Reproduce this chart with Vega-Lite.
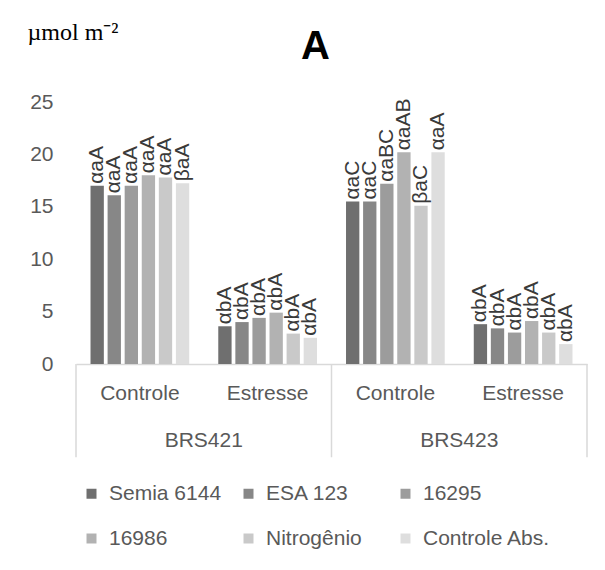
{
  "$schema": "https://vega.github.io/schema/vega-lite/v6.json",
  "autosize": {"type": "none"},
  "padding": {"left": 76, "top": 102, "right": 18, "bottom": 206},
  "width": 511,
  "height": 262,
  "background": "white",
  "config": {
    "view": {"stroke": null},
    "font": "Liberation Sans"
  },
  "title": {
    "text": "A",
    "font": "Liberation Sans",
    "fontSize": 40,
    "fontWeight": "bold",
    "color": "#000000",
    "anchor": "middle",
    "frame": "group",
    "baseline": "alphabetic",
    "dx": -16,
    "offset": -79
  },
  "data": {
    "values": [
      {"cultivar": "BRS421", "tratamento": "Controle", "grupo": "BRS421|Controle", "cepa": "Semia 6144", "valor": 17.0, "letra": "αaA"},
      {"cultivar": "BRS421", "tratamento": "Controle", "grupo": "BRS421|Controle", "cepa": "ESA 123", "valor": 16.1, "letra": "αaA"},
      {"cultivar": "BRS421", "tratamento": "Controle", "grupo": "BRS421|Controle", "cepa": "16295", "valor": 17.0, "letra": "αaA"},
      {"cultivar": "BRS421", "tratamento": "Controle", "grupo": "BRS421|Controle", "cepa": "16986", "valor": 18.0, "letra": "αaA"},
      {"cultivar": "BRS421", "tratamento": "Controle", "grupo": "BRS421|Controle", "cepa": "Nitrogênio", "valor": 17.8, "letra": "αaA"},
      {"cultivar": "BRS421", "tratamento": "Controle", "grupo": "BRS421|Controle", "cepa": "Controle Abs.", "valor": 17.25, "letra": "βaA"},
      {"cultivar": "BRS421", "tratamento": "Estresse", "grupo": "BRS421|Estresse", "cepa": "Semia 6144", "valor": 3.6, "letra": "αbA"},
      {"cultivar": "BRS421", "tratamento": "Estresse", "grupo": "BRS421|Estresse", "cepa": "ESA 123", "valor": 4.0, "letra": "αbA"},
      {"cultivar": "BRS421", "tratamento": "Estresse", "grupo": "BRS421|Estresse", "cepa": "16295", "valor": 4.4, "letra": "αbA"},
      {"cultivar": "BRS421", "tratamento": "Estresse", "grupo": "BRS421|Estresse", "cepa": "16986", "valor": 4.9, "letra": "αbA"},
      {"cultivar": "BRS421", "tratamento": "Estresse", "grupo": "BRS421|Estresse", "cepa": "Nitrogênio", "valor": 2.9, "letra": "αbA"},
      {"cultivar": "BRS421", "tratamento": "Estresse", "grupo": "BRS421|Estresse", "cepa": "Controle Abs.", "valor": 2.5, "letra": "αbA"},
      {"cultivar": "BRS423", "tratamento": "Controle", "grupo": "BRS423|Controle", "cepa": "Semia 6144", "valor": 15.5, "letra": "αaC"},
      {"cultivar": "BRS423", "tratamento": "Controle", "grupo": "BRS423|Controle", "cepa": "ESA 123", "valor": 15.5, "letra": "αaC"},
      {"cultivar": "BRS423", "tratamento": "Controle", "grupo": "BRS423|Controle", "cepa": "16295", "valor": 17.2, "letra": "αaBC"},
      {"cultivar": "BRS423", "tratamento": "Controle", "grupo": "BRS423|Controle", "cepa": "16986", "valor": 20.2, "letra": "αaAB"},
      {"cultivar": "BRS423", "tratamento": "Controle", "grupo": "BRS423|Controle", "cepa": "Nitrogênio", "valor": 15.1, "letra": "βaC"},
      {"cultivar": "BRS423", "tratamento": "Controle", "grupo": "BRS423|Controle", "cepa": "Controle Abs.", "valor": 20.2, "letra": "αaA"},
      {"cultivar": "BRS423", "tratamento": "Estresse", "grupo": "BRS423|Estresse", "cepa": "Semia 6144", "valor": 3.8, "letra": "αbA"},
      {"cultivar": "BRS423", "tratamento": "Estresse", "grupo": "BRS423|Estresse", "cepa": "ESA 123", "valor": 3.4, "letra": "αbA"},
      {"cultivar": "BRS423", "tratamento": "Estresse", "grupo": "BRS423|Estresse", "cepa": "16295", "valor": 3.0, "letra": "αbA"},
      {"cultivar": "BRS423", "tratamento": "Estresse", "grupo": "BRS423|Estresse", "cepa": "16986", "valor": 4.1, "letra": "αbA"},
      {"cultivar": "BRS423", "tratamento": "Estresse", "grupo": "BRS423|Estresse", "cepa": "Nitrogênio", "valor": 3.0, "letra": "αbA"},
      {"cultivar": "BRS423", "tratamento": "Estresse", "grupo": "BRS423|Estresse", "cepa": "Controle Abs.", "valor": 1.9, "letra": "αbA"}
    ]
  },
  "layer": [
    {
      "mark": {"type": "bar"},
      "encoding": {
        "x": {
          "field": "grupo", "type": "nominal", "sort": null,
          "scale": {"paddingInner": 0, "paddingOuter": 0},
          "axis": {
            "title": null,
            "labelExpr": "split(datum.label, '|')[1]",
            "labelAngle": 0,
            "labelFontSize": 21,
            "labelColor": "#595959",
            "labelPadding": 18,
            "ticks": false,
            "tickSize": 0,
            "domain": true,
            "domainColor": "#d9d9d9",
            "domainWidth": 1.5,
            "grid": false
          }
        },
        "xOffset": {
          "field": "cepa", "type": "nominal",
          "sort": ["Semia 6144", "ESA 123", "16295", "16986", "Nitrogênio", "Controle Abs."],
          "scale": {"paddingInner": 0.22, "paddingOuter": 0.85}
        },
        "y": {
          "field": "valor", "type": "quantitative",
          "scale": {"domain": [0, 25], "nice": false},
          "axis": {
            "values": [0, 5, 10, 15, 20, 25],
            "title": "µmol m⁻²",
            "titleAngle": 0,
            "titleAlign": "left",
            "titleBaseline": "alphabetic",
            "titleX": -49,
            "titleY": -63,
            "titleFont": "Liberation Serif",
            "titleFontSize": 24,
            "titleFontWeight": "normal",
            "titleColor": "#000000",
            "labelFontSize": 21,
            "labelColor": "#595959",
            "labelPadding": 23,
            "ticks": false,
            "tickSize": 0,
            "domain": false,
            "grid": false
          }
        },
        "color": {
          "field": "cepa", "type": "nominal",
          "sort": ["Semia 6144", "ESA 123", "16295", "16986", "Nitrogênio", "Controle Abs."],
          "scale": {"range": ["#6f6f6f", "#878787", "#9c9c9c", "#b2b2b2", "#c9c9c9", "#dedede"]},
          "legend": {
            "title": null,
            "orient": "none",
            "direction": "horizontal",
            "legendX": 5,
            "legendY": 381,
            "columns": 3,
            "gridAlign": "all",
            "padding": 0,
            "symbolType": "square",
            "symbolSize": 100,
            "symbolStrokeWidth": 0,
            "labelFontSize": 21,
            "labelColor": "#595959",
            "labelOffset": 7,
            "labelLimit": 300,
            "columnPadding": 1,
            "rowPadding": 23
          }
        }
      }
    },
    {
      "mark": {"type": "text", "angle": -90, "align": "left", "baseline": "middle", "dx": 2, "fontSize": 21, "font": "Liberation Sans", "color": "#3a3a3a"},
      "encoding": {
        "x": {"field": "grupo", "type": "nominal", "sort": null},
        "xOffset": {"field": "cepa", "type": "nominal", "sort": ["Semia 6144", "ESA 123", "16295", "16986", "Nitrogênio", "Controle Abs."]},
        "y": {"field": "valor", "type": "quantitative"},
        "text": {"field": "letra", "type": "nominal"}
      }
    },
    {
      "transform": [{"filter": "datum.cepa == 'Semia 6144' && datum.tratamento == 'Controle'"}],
      "mark": {"type": "rule", "color": "#d9d9d9", "strokeWidth": 1.5},
      "encoding": {
        "x": {"field": "grupo", "type": "nominal", "sort": null, "bandPosition": 0},
        "y": {"datum": 0},
        "y2": {"datum": -8.9}
      }
    },
    {
      "transform": [{"filter": "datum.cepa == 'Semia 6144' && datum.grupo == 'BRS423|Estresse'"}],
      "mark": {"type": "rule", "color": "#d9d9d9", "strokeWidth": 1.5},
      "encoding": {
        "x": {"field": "grupo", "type": "nominal", "sort": null, "bandPosition": 1},
        "y": {"datum": 0},
        "y2": {"datum": -8.9}
      }
    },
    {
      "transform": [{"filter": "datum.cepa == 'Semia 6144' && datum.tratamento == 'Estresse'"}],
      "mark": {"type": "text", "align": "center", "baseline": "middle", "fontSize": 21, "font": "Liberation Sans", "color": "#595959"},
      "encoding": {
        "x": {"field": "grupo", "type": "nominal", "sort": null, "bandPosition": 0},
        "y": {"datum": -7.3},
        "text": {"field": "cultivar", "type": "nominal"}
      }
    }
  ]
}
